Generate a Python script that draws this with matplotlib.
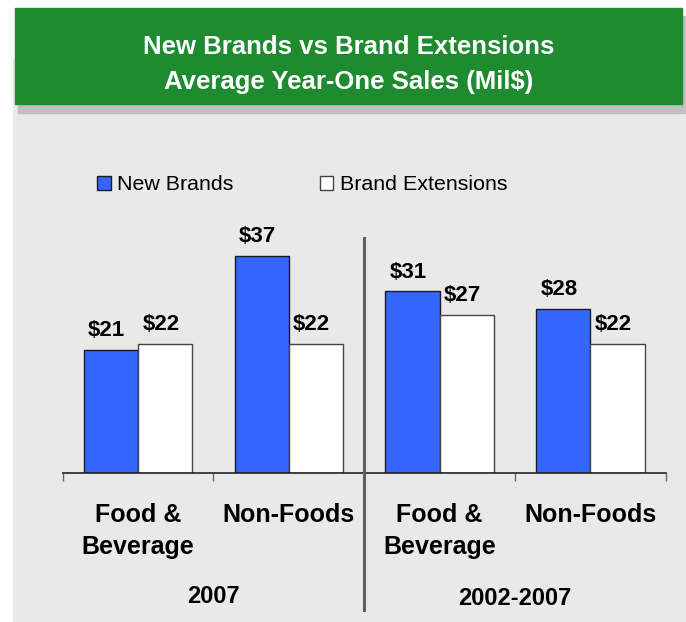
import matplotlib.pyplot as plt
from matplotlib.patches import Rectangle
from matplotlib.transforms import blended_transform_factory

plt.rcParams['font.family'] = ['Liberation Sans', 'DejaVu Sans']

categories = ['Food &\nBeverage', 'Non-Foods', 'Food &\nBeverage', 'Non-Foods']
periods = ['2007', '2002-2007']
new_brands = [21, 37, 31, 28]
brand_ext = [22, 22, 27, 22]

W, H = 686, 622
fig = plt.figure(figsize=(W / 100, H / 100), dpi=100)
fig.patch.set_facecolor('white')


def fx(x):
    return x / W


def fy(y):
    return 1 - y / H


# grey backdrop, green title bar with its drop shadow (kept under the axes)
fig.patches.append(Rectangle((fx(13), fy(622)), fx(672), 564 / H,
                             transform=fig.transFigure, color='#e9e9e9', zorder=-3))
fig.patches.append(Rectangle((fx(18), fy(113)), fx(667), 97 / H,
                             transform=fig.transFigure, color='#c0c0c0', zorder=-2))
fig.patches.append(Rectangle((fx(15), fy(104)), fx(667), 96 / H,
                             transform=fig.transFigure, color='#1e8b30', zorder=-1))
fig.text(fx(348.5), fy(53.5), 'New Brands vs Brand Extensions', color='white',
         fontsize=18.5, fontweight='bold', ha='center', va='baseline', zorder=3)
fig.text(fx(348.5), fy(88.5), 'Average Year-One Sales (Mil$)', color='white',
         fontsize=18.5, fontweight='bold', ha='center', va='baseline', zorder=3)

ax = fig.add_axes([fx(62.7), fy(473.3), fx(603), (473.3 - 238.7) / H])
ax.set_facecolor('none')
ax.set_xlim(-0.5, 3.5)
ax.set_ylim(0, 40)

x = list(range(len(categories)))
bw = 0.36
b1 = ax.bar([i - bw / 2 for i in x], new_brands, bw, color='#3366ff',
            edgecolor='#1a1a2a', linewidth=1, label='New Brands', zorder=2)
b2 = ax.bar([i + bw / 2 for i in x], brand_ext, bw, color='white',
            edgecolor='#444444', linewidth=1, label='Brand Extensions', zorder=2)

for bars, vals in ((b1, new_brands), (b2, brand_ext)):
    for rect, v in zip(bars, vals):
        ax.annotate(f'${v}', (rect.get_x() + rect.get_width() / 2, v),
                    xytext=(-3, 10), textcoords='offset points',
                    ha='center', va='baseline', fontsize=16, fontweight='bold')

for s in ('top', 'right', 'left'):
    ax.spines[s].set_visible(False)
ax.spines['bottom'].set_color('#222222')
ax.spines['bottom'].set_linewidth(1.2)
ax.set_yticks([])
ax.set_xticks([-0.5, 0.5, 1.5, 2.5, 3.5])
ax.set_xticklabels([])
ax.tick_params(axis='x', direction='out', length=6, width=1, color='#666666')

# divider between the two periods
ax.axvline(1.5, ymin=-0.583, ymax=1.005, color='#606060', linewidth=2.2,
           clip_on=False, zorder=3)

tr = blended_transform_factory(ax.transData, fig.transFigure)
for i, lab in enumerate(categories):
    ax.text(i, fy(503), lab, transform=tr, ha='center', va='top',
            fontsize=18, fontweight='bold', linespacing=1.4)
ax.text(0.5, fy(602.7), periods[0], transform=tr, ha='center', va='baseline',
        fontsize=17, fontweight='bold')
ax.text(2.5, fy(605), periods[1], transform=tr, ha='center', va='baseline',
        fontsize=17, fontweight='bold')

ax.legend(handles=[b1, b2], loc='center left', bbox_to_anchor=(fx(97.3), fy(185)),
          bbox_transform=fig.transFigure, ncol=2, frameon=False, fontsize=15.4,
          handlelength=0.62, handleheight=0.62, handletextpad=0.3,
          columnspacing=4.05, borderpad=0, borderaxespad=0)

fig.savefig('out.png', dpi=100)
